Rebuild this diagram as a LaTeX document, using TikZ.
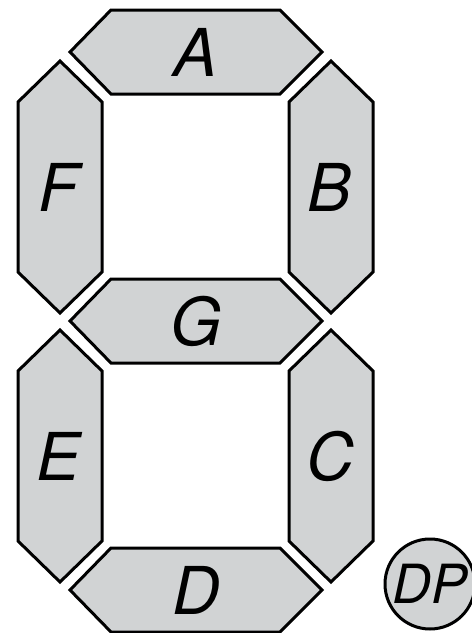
\documentclass[tikz,border=0pt]{standalone}
\usepackage{fontspec}
\newfontfamily\segfont{TeX Gyre Heros}
\usetikzlibrary{positioning}
\definecolor{seggray}{RGB}{209,211,212}
\tikzset{
  segment/.style={draw=black, fill=seggray, line width=3pt, line join=miter},
  seglabel/.style={font=\segfont\itshape\fontsize{66}{66}\selectfont, inner sep=0pt},
  dpdot/.style={draw=black, fill=seggray, line width=3pt, circle, minimum size=90pt, inner sep=0pt,
    font=\segfont\itshape\fontsize{54}{54}\selectfont},
}
\begin{document}
\begin{tikzpicture}[x=1pt, y=-1pt]
  \useasboundingbox (0,0) rectangle (472,633);

  % Horizontal segments
  \foreach \nm/\cx/\cy in {A/196/52, G/196/321, D/196/590} {
    \draw[segment] (\cx-126,\cy) -- (\cx-85,\cy-42) -- (\cx+84,\cy-42) -- (\cx+126,\cy)
      -- (\cx+84,\cy+42) -- (\cx-85,\cy+42) -- cycle;
    \node[seglabel] (lab\nm) at (\cx,\cy) {\nm};
  }

  % Vertical segments
  \foreach \nm/\cx/\cy in {F/60/187, B/331/187, E/60/456, C/331/456} {
    \draw[segment] (\cx,\cy-126) -- (\cx+42,\cy-85) -- (\cx+42,\cy+85) -- (\cx,\cy+126)
      -- (\cx-42,\cy+85) -- (\cx-42,\cy-85) -- cycle;
    \node[seglabel] (lab\nm) at (\cx-1,\cy) {\nm};
  }

  % Decimal point
  \node[dpdot] (dp) at (430,584) {DP};
\end{tikzpicture}
\end{document}
